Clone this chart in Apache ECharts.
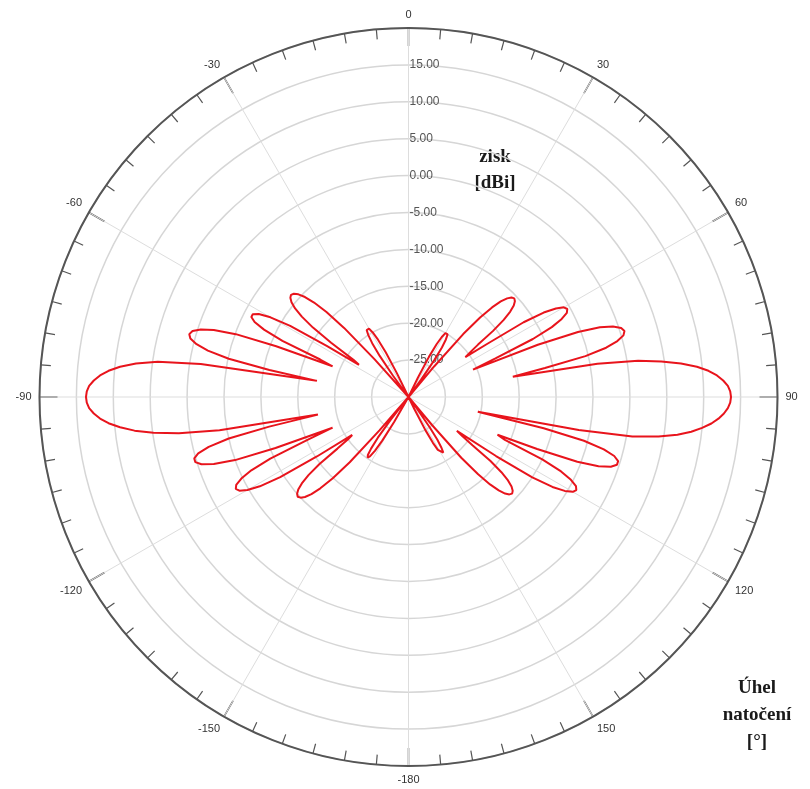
<!DOCTYPE html>
<html>
<head>
<meta charset="utf-8">
<script src="https://cdn.jsdelivr.net/npm/echarts@6/dist/echarts.min.js"></script>
<style>
  html, body { margin: 0; padding: 0; background: #ffffff; }
  #chart { width: 810px; height: 789px; }
</style>
</head>
<body>
<div id="chart"></div>
<script>
// Gain [dBi] per 1 degree of rotation, 0..89 deg (clockwise from top)
const gainQ1 = [
  -30, -30, -30, -30, -30, -30, -30, -30, -30, -30,
  -30, -30, -30, -30, -30, -30, -30, -30, -30, -30,
  -30, -30, -30, -30, -30, -30, -27.1, -23.9, -21.9, -20.7,
  -20.0, -19.8, -20.0, -20.7, -21.9, -23.9, -27.1, -30, -30, -30,
  -24.6, -18.7, -15.5, -13.4, -12.0, -11.1, -10.6, -10.4, -10.6, -11.1,
  -12.0, -13.4, -15.5, -18.2, -19.6, -20.6, -17.1, -11.4, -8.4, -6.7,
  -5.7, -5.4, -5.7, -6.7, -8.4, -11.4, -17.1, -20.5, -11.1, -5.4,
  -2.4, -0.7, 0.3, 0.6, 0.3, -0.7, -2.4, -5.4, -11.1, -15.6,
  -4.0, 1.5, 4.6, 7.2, 9.3, 10.8, 11.9, 12.7, 13.3, 13.6
];
// 90..179 deg
const gainQ2 = [
  13.7, 13.6, 13.3, 12.8, 12.1, 11.2, 10.0, 8.6, 6.8, 4.3,
  0.8, -6.5, -20.4, -11.2, -5.5, -2.6, -1.0, -0.3, -0.3, -1.0,
  -2.6, -5.5, -11.2, -16.9, -15.7, -10.0, -7.0, -5.3, -4.3, -4.0,
  -4.3, -5.3, -7.0, -10.0, -15.7, -22.0, -21.0, -19.1, -15.9, -13.8,
  -12.4, -11.5, -11.0, -10.8, -11.0, -11.5, -12.4, -13.8, -15.9, -19.1,
  -25.0, -30, -30, -30, -28.2, -25.0, -23.0, -21.8, -21.1, -20.9,
  -21.1, -21.8, -23.0, -25.0, -28.2, -30, -30, -30, -30, -30,
  -30, -30, -30, -30, -30, -30, -30, -30, -30, -30,
  -30, -30, -30, -30, -30, -30, -30, -30, -30, -30
];
// -180..-91 deg
const gainQ3 = [
  -30, -30, -30, -30, -30, -30, -30, -30, -30, -30,
  -30, -30, -30, -30, -30, -30, -30, -30, -30, -30,
  -30, -30, -30, -30, -30, -30, -30, -30, -30, -30,
  -26.1, -23.1, -21.4, -20.4, -20.1, -20.4, -21.4, -23.1, -26.1, -30,
  -30, -24.0, -18.1, -14.9, -12.8, -11.4, -10.5, -10.0, -9.8, -10.0,
  -10.5, -11.4, -12.8, -14.9, -18.1, -20.0, -20.8, -15.2, -9.5, -6.5,
  -4.8, -3.8, -3.5, -3.8, -4.8, -6.5, -9.5, -15.2, -18.9, -10.7,
  -5.0, -2.1, -0.5, 0.2, 0.2, -0.5, -2.1, -5.0, -10.7, -17.5,
  -4.0, 1.5, 4.9, 7.4, 9.3, 10.8, 11.9, 12.7, 13.3, 13.6
];
// -90..-1 deg
const gainQ4 = [
  13.7, 13.6, 13.3, 12.7, 11.9, 10.8, 9.3, 7.2, 4.3, -1.5,
  -17.4, -10.8, -5.1, -2.1, -0.4, 0.6, 0.9, 0.6, -0.4, -2.1,
  -5.1, -10.8, -18.9, -17.0, -11.3, -8.4, -6.8, -6.1, -6.1, -6.8,
  -8.4, -11.3, -17.0, -22.0, -21.0, -17.2, -14.0, -11.9, -10.5, -9.6,
  -9.1, -8.9, -9.1, -9.6, -10.5, -11.9, -14.0, -17.2, -23.1, -30,
  -30, -30, -30, -30, -26.4, -23.2, -21.2, -20.0, -19.3, -19.1,
  -19.3, -20.0, -21.2, -23.2, -26.4, -30, -30, -30, -30, -30,
  -30, -30, -30, -30, -30, -30, -30, -30, -30, -30,
  -30, -30, -30, -30, -30, -30, -30, -30, -30, -30
];

const gainRange = [-30, 20];
const gainStep = 5;
const angleStep = 30;
const gainTitle = ['zisk', '[dBi]'];
const angleTitle = ['Úhel', 'natočení', '[°]'];

const gains = gainQ1.concat(gainQ2, gainQ3, gainQ4);
const pattern = gains.map((g, i) => [g, i]);
pattern.push([gains[0], 360]);

const chart = echarts.init(document.getElementById('chart'), null, { renderer: 'canvas' });

const serif = '"Liberation Serif", "Times New Roman", serif';
const titleText = (lines, x, y0, dy) => lines.map((t, k) => ({
  type: 'text',
  x: x, y: y0 + k * dy,
  style: {
    text: t, fill: '#1a1a1a', font: 'bold 19px ' + serif,
    textAlign: 'center', textVerticalAlign: 'middle'
  }
}));

chart.setOption({
  animation: false,
  backgroundColor: '#ffffff',
  polar: { center: [408.5, 397], radius: 369 },
  angleAxis: {
    type: 'value', min: 0, max: 360, interval: angleStep,
    startAngle: 90, clockwise: true,
    axisLine: { lineStyle: { color: '#555555', width: 2 } },
    axisTick: { inside: true, length: 18, lineStyle: { color: '#555555', width: 1.5 } },
    minorTick: { show: true, splitNumber: 6, length: 10, lineStyle: { color: '#555555', width: 1.2 } },
    axisLabel: {
      margin: 8, color: '#333333', fontSize: 11, fontFamily: 'Arial, "Liberation Sans", sans-serif',
      formatter: v => (v === 180 ? '-180' : (v > 180 ? String(v - 360) : String(v)))
    },
    splitLine: { lineStyle: { color: '#dddddd', width: 1 } }
  },
  radiusAxis: {
    type: 'value', min: gainRange[0], max: gainRange[1], interval: gainStep,
    axisLine: { show: false },
    axisTick: { show: false },
    axisLabel: {
      margin: -1, align: 'left',
      color: '#555555', fontSize: 12, fontFamily: 'Arial, "Liberation Sans", sans-serif',
      formatter: v => (v <= gainRange[0] || v >= gainRange[1]) ? '' : v.toFixed(2)
    },
    splitLine: { lineStyle: { color: '#d6d6d6', width: 1.5 } }
  },
  series: [{
    type: 'line', coordinateSystem: 'polar', data: pattern,
    showSymbol: false, clip: false,
    lineStyle: { color: '#e8141c', width: 2 }
  }],
  graphic: titleText(gainTitle, 495, 157, 26).concat(titleText(angleTitle, 757, 688, 27))
});
</script>
</body>
</html>
